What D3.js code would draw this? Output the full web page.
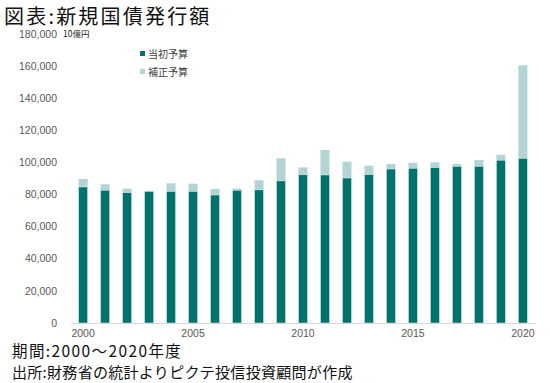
<!DOCTYPE html>
<html>
<head>
<meta charset="utf-8">
<script src="https://cdn.jsdelivr.net/npm/d3@7.9.0/dist/d3.min.js"></script>
<style>
  body { margin: 0; background: #fff; }
  svg { display: block; font-family: "Noto Sans CJK JP", "Noto Sans", sans-serif; }
</style>
</head>
<body>
<svg id="chart" width="550" height="383"></svg>
<script>
const years = d3.range(2000, 2021);
// 10億円
const initialBudget = [84700, 82700, 81200, 82000, 82000, 82000, 79700, 82700, 82900, 88500,
  92300, 92200, 90300, 92400, 95900, 96400, 96800, 97600, 97600, 101400, 102600];
const totalAfterRevision = [89700, 86400, 83700, 82300, 87000, 86800, 83500, 83700, 88900, 102600,
  96900, 107800, 100500, 98000, 99100, 99700, 100100, 99100, 101500, 104700, 160500];
const yTicks = d3.range(0, 180001, 20000);
const xLabels = [2000, 2005, 2010, 2015, 2020];

const darkColor = '#00726d';
const lightColor = '#b2d4d5';

const svg = d3.select('#chart');

const x = d3.scaleBand()
  .domain(years)
  .range([72, 534])
  .paddingInner(0.59)
  .paddingOuter(0.3);

const y = d3.scaleLinear()
  .domain([0, 180000])
  .range([323, 34]);

// title
svg.append('text')
  .attr('x', 4)
  .attr('y', 23.5)
  .attr('font-size', 20)
  .attr('letter-spacing', 2.2)
  .attr('fill', '#111')
  .text('図表:新規国債発行額');

// y axis labels
svg.append('g')
  .selectAll('text')
  .data(yTicks)
  .join('text')
  .attr('x', 57)
  .attr('y', (d) => y(d))
  .attr('dy', '0.35em')
  .attr('text-anchor', 'end')
  .attr('font-family', 'Arial, "Liberation Sans", sans-serif')
  .attr('font-size', 10.5)
  .attr('fill', '#595959')
  .text((d) => d3.format(',')(d));

svg.append('text')
  .attr('x', 63)
  .attr('y', y(180000))
  .attr('dy', '0.35em')
  .attr('font-size', 8.5)
  .attr('fill', '#222')
  .text('10億円');

// bars
const bars = svg.append('g');
years.forEach((yr, i) => {
  bars.append('rect')
    .attr('x', x(yr))
    .attr('width', x.bandwidth())
    .attr('y', y(totalAfterRevision[i]))
    .attr('height', y(initialBudget[i]) - y(totalAfterRevision[i]))
    .attr('fill', lightColor);
  bars.append('rect')
    .attr('x', x(yr))
    .attr('width', x.bandwidth())
    .attr('y', y(initialBudget[i]))
    .attr('height', y(0) - y(initialBudget[i]))
    .attr('fill', darkColor)
    .attr('stroke', '#e8f0f0')
    .attr('stroke-width', 0.5);
});

// x axis
svg.append('line')
  .attr('x1', 71).attr('x2', 535)
  .attr('y1', y(0) + 0.5).attr('y2', y(0) + 0.5)
  .attr('stroke', '#d9d9d9');

svg.append('g')
  .selectAll('text')
  .data(xLabels)
  .join('text')
  .attr('x', (d) => x(d) + x.bandwidth() / 2)
  .attr('y', 337)
  .attr('text-anchor', 'middle')
  .attr('font-family', 'Arial, "Liberation Sans", sans-serif')
  .attr('font-size', 10.5)
  .attr('fill', '#595959')
  .text((d) => d);

// legend
const legendItems = [
  { label: '当初予算', color: darkColor },
  { label: '補正予算', color: lightColor }
];
const legend = svg.append('g');
legendItems.forEach((d, i) => {
  legend.append('rect')
    .attr('x', 140).attr('y', 51 + i * 18)
    .attr('width', 5).attr('height', 5)
    .attr('fill', d.color);
  legend.append('text')
    .attr('x', 148).attr('y', 54 + i * 18)
    .attr('dy', '0.35em')
    .attr('font-size', 10)
    .attr('fill', '#404040')
    .text(d.label);
});

// footer
svg.append('text')
  .attr('x', 12).attr('y', 357)
  .attr('font-size', 15.5)
  .attr('letter-spacing', 1.4)
  .attr('fill', '#111')
  .text('期間:2000～2020年度');
svg.append('text')
  .attr('x', 12).attr('y', 378)
  .attr('font-size', 15)
  .attr('letter-spacing', 0.3)
  .attr('fill', '#111')
  .text('出所:財務省の統計よりピクテ投信投資顧問が作成');
</script>
</body>
</html>
